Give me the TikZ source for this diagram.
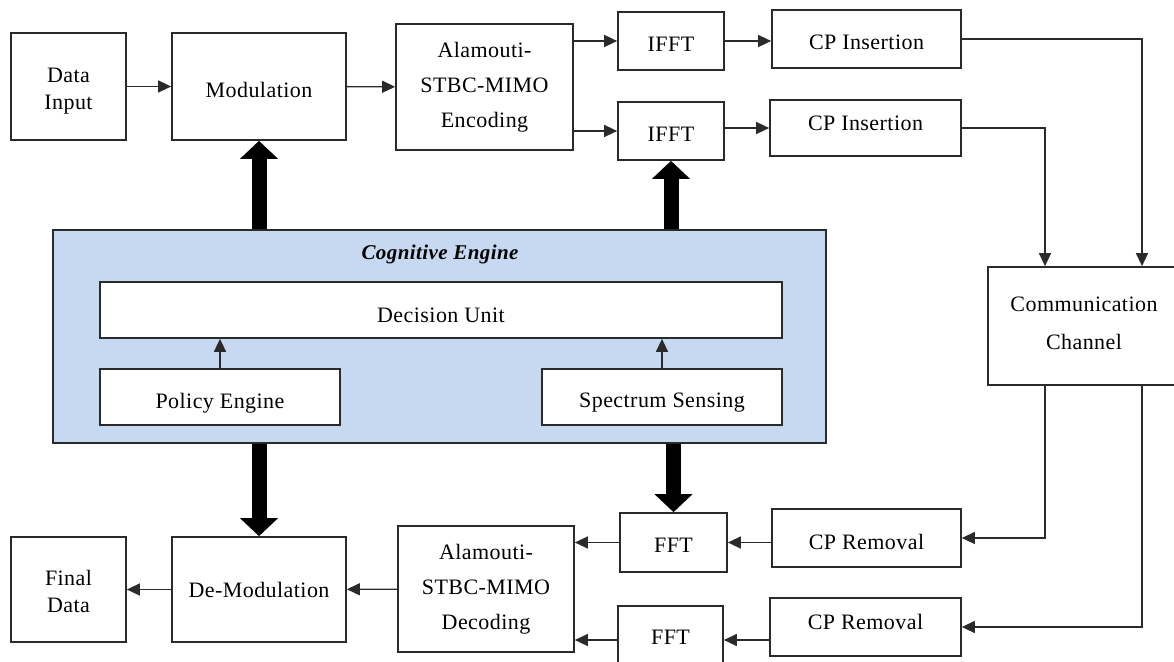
\documentclass[tikz,border=0pt]{standalone}
\usepackage{fontspec}
\setmainfont{Liberation Serif}[LetterSpace=2.0]
\usetikzlibrary{arrows.meta}
\definecolor{engfill}{HTML}{C6D9F1}
\definecolor{edge}{HTML}{2A2A2A}
\newcommand{\shiftline}[2]{\raisebox{#1}[\height][\depth]{#2}}
\begin{document}
\begin{tikzpicture}[x=1pt,y=-1pt,
  box/.style={draw=edge, line width=1.7pt, fill=white, inner sep=0pt, align=center,
              font=\fontsize{22}{27}\selectfont},
  arr/.style={draw=edge, line width=1.4pt, -{Triangle[length=13pt,width=12pt]}},
  heavy/.style={draw=black, line width=15pt, -{Triangle[length=18pt,width=37pt]}}]
\useasboundingbox (0,0) rectangle (1174,661);

% Cognitive engine
\node[draw=edge, line width=1.7pt, fill=engfill, minimum width=773pt, minimum height=213pt, inner sep=0pt] (eng) at (439.5,336.5) {};
\node[font=\fontsize{21}{26}\selectfont\bfseries\itshape] (title) at (440,254) {Cognitive Engine};
\node[box, minimum width=682pt, minimum height=56pt] (dec) at (441,310) {\shiftline{-5pt}{Decision Unit}};
\node[box, minimum width=240pt, minimum height=56pt] (pol) at (220,397) {\shiftline{-6pt}{Policy Engine}};
\node[box, minimum width=240pt, minimum height=56pt] (spec) at (662,397) {\shiftline{-6pt}{Spectrum Sensing}};

% transmitter
\node[box, minimum width=115pt, minimum height=107pt] (din) at (68.5,86.5) {\shiftline{-5pt}{Data}\\\shiftline{-5pt}{Input}};
\node[box, minimum width=174pt, minimum height=107pt] (mod) at (259,86.5) {\shiftline{-3pt}{Modulation}};
\node[box, minimum width=177pt, minimum height=126pt, font=\fontsize{22}{35}\selectfont] (enc) at (484.5,87) {Alamouti-\\STBC-MIMO\\Encoding};
\node[box, minimum width=106pt, minimum height=58pt] (ifftA) at (671,41) {\shiftline{-3pt}{IFFT}};
\node[box, minimum width=106pt, minimum height=58pt] (ifftB) at (671,131) {\shiftline{-3pt}{IFFT}};
\node[box, minimum width=189pt, minimum height=58pt] (cpiA) at (866.5,39) {\shiftline{-3pt}{CP Insertion}};
\node[box, minimum width=191pt, minimum height=56pt] (cpiB) at (865.5,128) {\shiftline{5pt}{CP Insertion}};

% channel
\node[box, minimum width=192pt, minimum height=118pt, font=\fontsize{22}{38}\selectfont] (comm) at (1084,326) {\shiftline{3pt}{Communication}\\\shiftline{3pt}{Channel}};

% receiver
\node[box, minimum width=189pt, minimum height=58pt] (cprA) at (866.5,538) {\shiftline{-4pt}{CP Removal}};
\node[box, minimum width=191pt, minimum height=58pt] (cprB) at (865.5,627) {\shiftline{5pt}{CP Removal}};
\node[box, minimum width=107pt, minimum height=59pt] (fftA) at (673.5,542.5) {\shiftline{-3pt}{FFT}};
\node[box, minimum width=105pt, minimum height=68pt] (fftB) at (670.5,640) {\shiftline{3pt}{FFT}};
\node[box, minimum width=176pt, minimum height=126pt, font=\fontsize{22}{35}\selectfont] (decd) at (486,589) {Alamouti-\\STBC-MIMO\\Decoding};
\node[box, minimum width=174pt, minimum height=105pt] (demod) at (259,589.5) {De-Modulation};
\node[box, minimum width=115pt, minimum height=105pt] (fin) at (68.5,589.5) {\shiftline{-2pt}{Final}\\\shiftline{-2pt}{Data}};

% transmitter arrows
\draw[arr] (din) -- (mod);
\draw[arr] (mod) -- (enc);
\draw[arr] (enc.east |- ifftA.west) -- (ifftA.west);
\draw[arr] (enc.east |- ifftB.west) -- (ifftB.west);
\draw[arr] (ifftA.east) -- (ifftA.east -| cpiA.west);
\draw[arr] (ifftB.east |- cpiB.west) -- (cpiB.west);
\draw[arr] (cpiA.east) -| ([xshift=58pt]comm.north);
\draw[arr] (cpiB.east) -| ([xshift=-39pt]comm.north);

% receiver arrows
\draw[arr] ([xshift=-39pt]comm.south) |- (cprA.east);
\draw[arr] ([xshift=58pt]comm.south) |- (cprB.east);
\draw[arr] (cprA.west |- fftA.east) -- (fftA.east);
\draw[arr] (cprB.west |- fftB.east) -- (fftB.east);
\draw[arr] (fftA.west) -- (fftA.west -| decd.east);
\draw[arr] (fftB.west) -- (fftB.west -| decd.east);
\draw[arr] (decd) -- (demod);
\draw[arr] (demod) -- (fin);

% engine internal
\draw[arr] (pol.north) -- (pol.north |- dec.south);
\draw[arr] (spec.north) -- (spec.north |- dec.south);

% heavy control arrows
\draw[heavy] (eng.north -| mod.south) -- (mod.south);
\draw[heavy] (eng.north -| ifftB.south) -- (ifftB.south);
\draw[heavy] (eng.south -| demod.north) -- (demod.north);
\draw[heavy] (eng.south -| fftA.north) -- (fftA.north);
\end{tikzpicture}
\end{document}
